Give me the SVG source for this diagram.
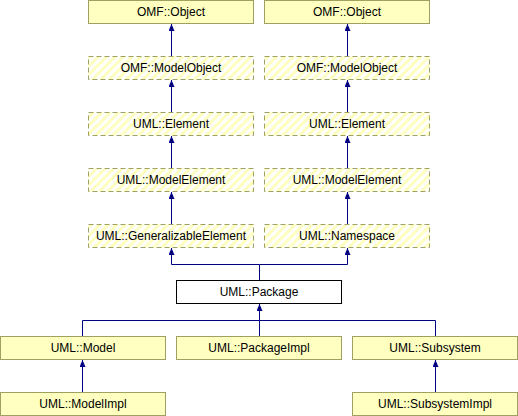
<svg xmlns="http://www.w3.org/2000/svg" width="518" height="416" viewBox="0 0 518 416">
<defs>
<pattern id="hatch" patternUnits="userSpaceOnUse" width="6" height="6" patternTransform="rotate(45)">
<rect x="0" y="0" width="6" height="6" fill="#ffffff"/>
<rect x="0" y="0" width="3" height="6" fill="#ffffc0"/>
</pattern>
<marker id="arr" markerWidth="7" markerHeight="6" refX="7" refY="3" orient="auto" markerUnits="userSpaceOnUse" viewBox="0 0 7 6">
<path d="M0,0 L7,3 L0,6 Z" fill="#000080"/>
</marker>
</defs>
<style>
.box{fill:#ffffc0;stroke:#a0a060;stroke-width:1}
.vbox{fill:url(#hatch);stroke:#a0a060;stroke-width:1;stroke-dasharray:5,3}
.pbox{fill:#ffffff;stroke:#000000;stroke-width:1}
.lbl{font-family:"Liberation Sans",Arial,sans-serif;font-size:12px;fill:#000000;text-anchor:middle}
.edge{stroke:#000080;stroke-width:1;fill:none}
</style>
<g id="connectors">
<path class="edge" d="M171.5,56 V24" marker-end="url(#arr)"/>
<path class="edge" d="M171.5,112 V80" marker-end="url(#arr)"/>
<path class="edge" d="M171.5,168 V136" marker-end="url(#arr)"/>
<path class="edge" d="M171.5,224 V192" marker-end="url(#arr)"/>
<path class="edge" d="M347.5,56 V24" marker-end="url(#arr)"/>
<path class="edge" d="M347.5,112 V80" marker-end="url(#arr)"/>
<path class="edge" d="M347.5,168 V136" marker-end="url(#arr)"/>
<path class="edge" d="M347.5,224 V192" marker-end="url(#arr)"/>
<path class="edge" d="M259.5,280 V264.5 H171.5 V248" marker-end="url(#arr)"/>
<path class="edge" d="M259.5,264.5 H347.5 V248" marker-end="url(#arr)"/>
<path class="edge" d="M82.5,336 V320.5 H259.5 V304" marker-end="url(#arr)"/>
<path class="edge" d="M259.5,336 V320.5"/>
<path class="edge" d="M435.5,336 V320.5 H259.5"/>
<path class="edge" d="M82.5,392 V360" marker-end="url(#arr)"/>
<path class="edge" d="M435.5,392 V360" marker-end="url(#arr)"/>
</g>
<g id="omf_object_1"><rect class="box" x="88.5" y="0.5" width="165" height="23"/><text class="lbl" x="171" y="16">OMF::Object</text></g>
<g id="omf_object_2"><rect class="box" x="264.5" y="0.5" width="165" height="23"/><text class="lbl" x="347" y="16">OMF::Object</text></g>
<g id="omf_modelobject_1"><rect class="vbox" x="88.5" y="56.5" width="165" height="23"/><text class="lbl" x="171" y="72">OMF::ModelObject</text></g>
<g id="omf_modelobject_2"><rect class="vbox" x="264.5" y="56.5" width="165" height="23"/><text class="lbl" x="347" y="72">OMF::ModelObject</text></g>
<g id="uml_element_1"><rect class="vbox" x="88.5" y="112.5" width="165" height="23"/><text class="lbl" x="171" y="128">UML::Element</text></g>
<g id="uml_element_2"><rect class="vbox" x="264.5" y="112.5" width="165" height="23"/><text class="lbl" x="347" y="128">UML::Element</text></g>
<g id="uml_modelelement_1"><rect class="vbox" x="88.5" y="168.5" width="165" height="23"/><text class="lbl" x="171" y="184">UML::ModelElement</text></g>
<g id="uml_modelelement_2"><rect class="vbox" x="264.5" y="168.5" width="165" height="23"/><text class="lbl" x="347" y="184">UML::ModelElement</text></g>
<g id="uml_generalizableelement"><rect class="vbox" x="88.5" y="224.5" width="165" height="23"/><text class="lbl" x="171" y="240">UML::GeneralizableElement</text></g>
<g id="uml_namespace"><rect class="vbox" x="264.5" y="224.5" width="165" height="23"/><text class="lbl" x="347" y="240">UML::Namespace</text></g>
<g id="uml_package"><rect class="pbox" x="176.5" y="280.5" width="165" height="23"/><text class="lbl" x="259" y="296">UML::Package</text></g>
<g id="uml_model"><rect class="box" x="0.5" y="336.5" width="165" height="23"/><text class="lbl" x="83" y="352">UML::Model</text></g>
<g id="uml_packageimpl"><rect class="box" x="176.5" y="336.5" width="165" height="23"/><text class="lbl" x="259" y="352">UML::PackageImpl</text></g>
<g id="uml_subsystem"><rect class="box" x="352.5" y="336.5" width="165" height="23"/><text class="lbl" x="435" y="352">UML::Subsystem</text></g>
<g id="uml_modelimpl"><rect class="box" x="0.5" y="392.5" width="165" height="23"/><text class="lbl" x="83" y="408">UML::ModelImpl</text></g>
<g id="uml_subsystemimpl"><rect class="box" x="352.5" y="392.5" width="165" height="23"/><text class="lbl" x="435" y="408">UML::SubsystemImpl</text></g>
</svg>
